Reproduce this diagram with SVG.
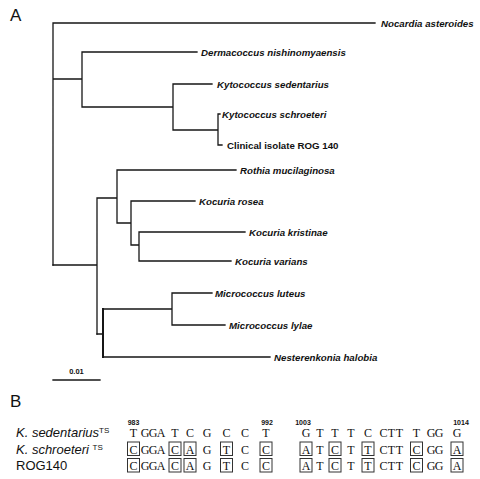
<svg xmlns="http://www.w3.org/2000/svg" width="480" height="479" viewBox="0 0 480 479">
<style>
.br{fill:none;stroke:#161616;stroke-width:1.3;stroke-linecap:square}
.tip{font-family:"Liberation Sans",Arial,sans-serif;font-size:9.7px;font-weight:bold;font-style:italic;fill:#111}
.tipn{font-style:normal}
.pl{font-family:"Liberation Sans",Arial,sans-serif;font-size:17px;fill:#111}
.sp{font-family:"Liberation Sans",Arial,sans-serif;font-size:13px;fill:#111}
.sup{font-size:8px}
.sq{font-family:"Liberation Serif","Times New Roman",serif;font-size:12px;fill:#111;text-anchor:middle}
.num{font-family:"Liberation Sans",Arial,sans-serif;font-size:7px;font-weight:bold;fill:#111}
.bx{fill:none;stroke:#333;stroke-width:1}
</style>
<rect width="480" height="479" fill="#fff"/>
<text class="pl" x="10" y="21">A</text>
<g id="connectors">
<path class="br" d="M53,23V265M53,23H375M53,79H82M82,52V107M82,52H197M82,107H173M173,84V130M173,84H212M173,130H218M218,114V145M218,114H220M218,145H222"/>
<path class="br" d="M53,265H97M97,198V334M97,198H117M117,170V223M117,170H236M117,223H131M131,201V245M131,201H195M131,245H139M139,232V261M139,232H245M139,261H231"/>
<path class="br" d="M97,334H103M103,309H172M172,293V325M172,293H212M172,325H225M103,357H270"/>
<path class="br" style="stroke-width:2" d="M103,309V357"/>
</g>
<g id="n-nocardia"><text class="tip" x="381" y="26.5">Nocardia asteroides</text></g>
<g id="n-dermacoccus"><text class="tip" x="201" y="55.5">Dermacoccus nishinomyaensis</text></g>
<g id="n-ksedentarius"><text class="tip" x="217" y="87.5">Kytococcus sedentarius</text></g>
<g id="n-kschroeteri"><text class="tip" x="222" y="117.5">Kytococcus schroeteri</text></g>
<g id="n-rog140"><text class="tip tipn" x="227" y="148.5">Clinical isolate ROG 140</text></g>
<g id="n-rothia"><text class="tip" x="240" y="173.5">Rothia mucilaginosa</text></g>
<g id="n-krosea"><text class="tip" x="199" y="204.5">Kocuria rosea</text></g>
<g id="n-kkristinae"><text class="tip" x="249" y="235.5">Kocuria kristinae</text></g>
<g id="n-kvarians"><text class="tip" x="235" y="264.5">Kocuria varians</text></g>
<g id="n-mluteus"><text class="tip" x="215" y="296.5">Micrococcus luteus</text></g>
<g id="n-mlylae"><text class="tip" x="229" y="328.5">Micrococcus lylae</text></g>
<g id="n-nesterenkonia"><text class="tip" x="274" y="360.5">Nesterenkonia halobia</text></g>
<g id="scalebar">
<path class="br" d="M53,380H100"/>
<text class="num" x="76.5" y="374" text-anchor="middle" style="font-size:7.5px">0.01</text>
</g>
<text class="pl" x="10" y="407">B</text>
<g id="positions">
<text class="num" x="133.5" y="425" text-anchor="middle">983</text>
<text class="num" x="267" y="425" text-anchor="middle">992</text>
<text class="num" x="303" y="425" text-anchor="middle">1003</text>
<text class="num" x="461" y="425" text-anchor="middle">1014</text>
</g>
<g id="row-sedentarius">
<text class="sp" x="16" y="437"><tspan font-style="italic">K. sedentarius</tspan><tspan class="sup" dy="-4">TS</tspan></text>
<text class="sq" y="437"><tspan x="133.5">T</tspan><tspan x="145">G</tspan><tspan x="153">G</tspan><tspan x="161">A</tspan><tspan x="175">T</tspan><tspan x="190">C</tspan><tspan x="207">G</tspan><tspan x="226.5">C</tspan><tspan x="245">C</tspan><tspan x="266">T</tspan><tspan x="306">G</tspan><tspan x="320">T</tspan><tspan x="335">T</tspan><tspan x="351">T</tspan><tspan x="368">C</tspan><tspan x="383.5">C</tspan><tspan x="391.5">T</tspan><tspan x="399.5">T</tspan><tspan x="416.5">T</tspan><tspan x="431">G</tspan><tspan x="439">G</tspan><tspan x="457">G</tspan></text>
</g>
<g id="row-schroeteri">
<text class="sp" x="16" y="453.5"><tspan font-style="italic">K. schroeteri </tspan><tspan class="sup" dy="-4">TS</tspan></text>
<text class="sq" y="453.5"><tspan x="133.5">C</tspan><tspan x="145">G</tspan><tspan x="153">G</tspan><tspan x="161">A</tspan><tspan x="175">C</tspan><tspan x="190">A</tspan><tspan x="207">G</tspan><tspan x="226.5">T</tspan><tspan x="245">C</tspan><tspan x="266">C</tspan><tspan x="306">A</tspan><tspan x="320">T</tspan><tspan x="335">C</tspan><tspan x="351">T</tspan><tspan x="368">T</tspan><tspan x="383.5">C</tspan><tspan x="391.5">T</tspan><tspan x="399.5">T</tspan><tspan x="416.5">C</tspan><tspan x="431">G</tspan><tspan x="439">G</tspan><tspan x="457">A</tspan></text>
<g class="bx" transform="translate(0,442)">
<rect x="127.5" width="12" height="13.5"/><rect x="169" width="12" height="13.5"/><rect x="184" width="12" height="13.5"/><rect x="220.5" width="12" height="13.5"/><rect x="260" width="12" height="13.5"/><rect x="300" width="12" height="13.5"/><rect x="329" width="12" height="13.5"/><rect x="362" width="12" height="13.5"/><rect x="410.5" width="12" height="13.5"/><rect x="451" width="12" height="13.5"/>
</g>
</g>
<g id="row-rog140">
<text class="sp" x="16" y="470">ROG140</text>
<text class="sq" y="470"><tspan x="133.5">C</tspan><tspan x="145">G</tspan><tspan x="153">G</tspan><tspan x="161">A</tspan><tspan x="175">C</tspan><tspan x="190">A</tspan><tspan x="207">G</tspan><tspan x="226.5">T</tspan><tspan x="245">C</tspan><tspan x="266">C</tspan><tspan x="306">A</tspan><tspan x="320">T</tspan><tspan x="335">C</tspan><tspan x="351">T</tspan><tspan x="368">T</tspan><tspan x="383.5">C</tspan><tspan x="391.5">T</tspan><tspan x="399.5">T</tspan><tspan x="416.5">C</tspan><tspan x="431">G</tspan><tspan x="439">G</tspan><tspan x="457">A</tspan></text>
<g class="bx" transform="translate(0,458.5)">
<rect x="127.5" width="12" height="13.5"/><rect x="169" width="12" height="13.5"/><rect x="184" width="12" height="13.5"/><rect x="220.5" width="12" height="13.5"/><rect x="260" width="12" height="13.5"/><rect x="300" width="12" height="13.5"/><rect x="329" width="12" height="13.5"/><rect x="362" width="12" height="13.5"/><rect x="410.5" width="12" height="13.5"/><rect x="451" width="12" height="13.5"/>
</g>
</g>
</svg>
